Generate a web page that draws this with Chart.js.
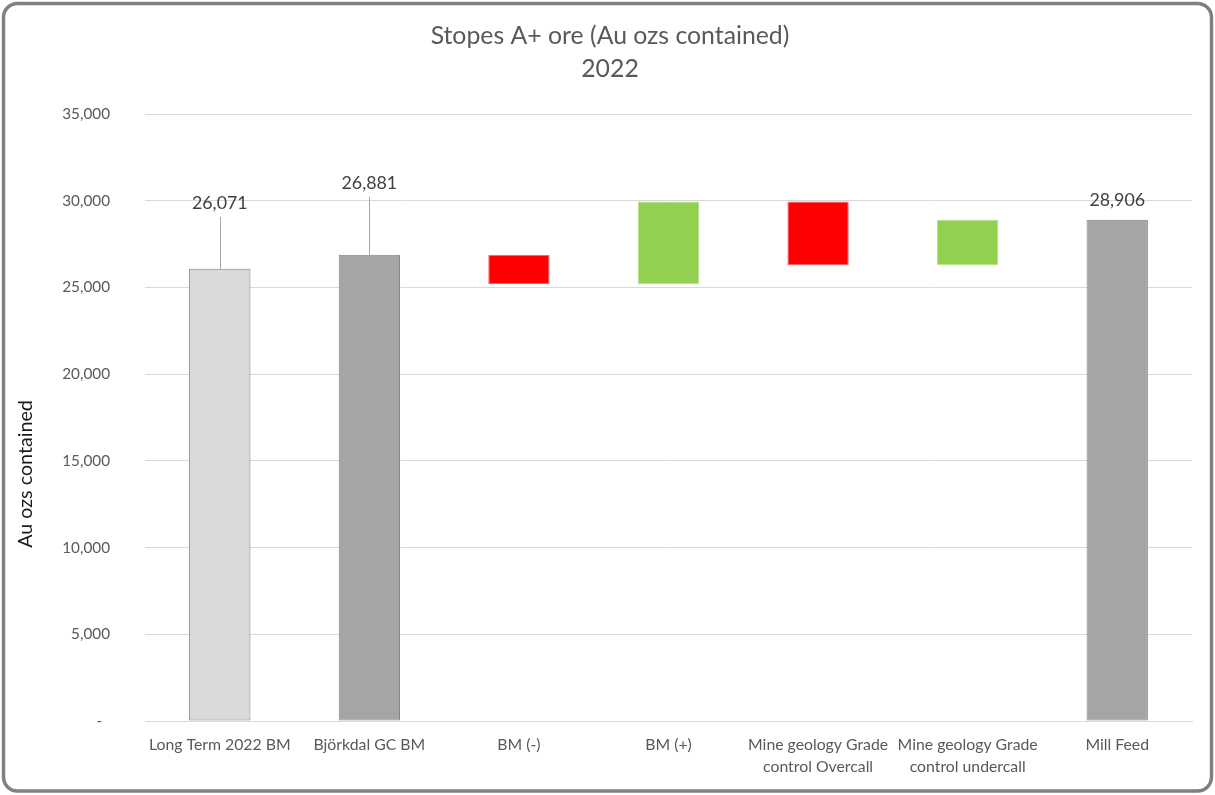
<!DOCTYPE html>
<html><head><meta charset="utf-8">
<title>Stopes A+ ore (Au ozs contained) 2022</title>
<script src="https://cdn.jsdelivr.net/npm/chart.js@4"></script>
<style>html,body{margin:0;padding:0;background:#fff}canvas{display:block}</style>
</head>
<body>
<canvas id="chart" width="1215" height="795"></canvas>
<script>
// Waterfall steps from the long-term model to mill feed
const categories = [
  'Long Term 2022 BM',
  'Björkdal GC BM',
  'BM (-)',
  'BM (+)',
  ['Mine geology Grade', 'control Overcall'],
  ['Mine geology Grade', 'control undercall'],
  'Mill Feed'
];
const barStart = [0, 0, 25200, 25200, 26275, 26275, 0];
const barEnd = [26071, 26881, 26881, 29950, 29950, 28906, 28906];
const showValue = [true, true, false, false, false, false, true];
const yTicks = [0, 5000, 10000, 15000, 20000, 25000, 30000, 35000];

const fills = ['#d9d9d9', '#a5a5a5', '#ff0000', '#92d050', '#ff0000', '#92d050', '#a5a5a5'];
const edges = ['#7f7f7f', '#858585', '#ff6060', '#b5e08a', '#ff6060', '#b5e08a', '#858585'];

const FONT = 'Lato, "Noto Sans", sans-serif';

// frame, titles and value callouts drawn straight onto the canvas
const decorations = {
  id: 'decorations',
  beforeDraw(chart) {
    const ctx = chart.ctx;
    ctx.save();
    ctx.fillStyle = '#ffffff';
    ctx.fillRect(0, 0, chart.width, chart.height);
    ctx.restore();
  },
  afterDraw(chart, args, opts) {
    const ctx = chart.ctx;
    ctx.save();
    // rounded outer frame
    ctx.strokeStyle = '#808080';
    ctx.lineWidth = 3.5;
    ctx.beginPath();
    ctx.roundRect(3.5, 3.5, chart.width - 7, chart.height - 7.5, 14);
    ctx.stroke();

    // chart title
    ctx.fillStyle = '#595959';
    ctx.font = '24.8px ' + FONT;
    ctx.textAlign = 'center';
    ctx.textBaseline = 'middle';
    ctx.fillText('Stopes A+ ore (Au ozs contained)', 610, 36);
    ctx.fillText('2022', 610, 69);

    // value axis title
    ctx.save();
    ctx.translate(26, 474);
    ctx.rotate(-Math.PI / 2);
    ctx.fillStyle = '#1a1a1a';
    ctx.font = '19.7px ' + FONT;
    ctx.fillText('Au ozs contained', 0, 0);
    ctx.restore();

    // value callouts with leader lines
    const meta = chart.getDatasetMeta(0);
    const y = chart.scales.y;
    ctx.font = '17.8px ' + FONT;
    barEnd.forEach((v, i) => {
      if (!showValue[i]) return;
      const x = meta.data[i].x;
      const top = y.getPixelForValue(v);
      const ly = top + opts.offsets[i];
      if (top - ly > 30) {
        ctx.strokeStyle = '#a6a6a6';
        ctx.lineWidth = 1;
        ctx.beginPath();
        ctx.moveTo(Math.round(x) + 0.5, top);
        ctx.lineTo(Math.round(x) + 0.5, ly + 14);
        ctx.stroke();
      }
      ctx.fillStyle = '#404040';
      ctx.fillText(v.toLocaleString('en-US'), x, ly);
    });
    ctx.restore();
  }
};

new Chart(document.getElementById('chart'), {
  type: 'bar',
  data: {
    labels: categories,
    datasets: [{
      data: barStart.map((s, i) => [s, barEnd[i]]),
      backgroundColor: fills,
      borderColor: edges,
      borderWidth: 1,
      borderSkipped: false,
      barPercentage: 0.41,
      categoryPercentage: 1
    }]
  },
  options: {
    responsive: false,
    animation: false,
    devicePixelRatio: 1,
    layout: { padding: { top: 114, right: 23, bottom: 0, left: 0 } },
    plugins: {
      legend: { display: false },
      tooltip: { enabled: false },
      decorations: { offsets: [-66, -72, 0, 0, 0, 0, -19] }
    },
    scales: {
      x: {
        grid: { display: false, drawTicks: false },
        border: { display: true, color: '#d9d9d9', width: 1 },
        ticks: {
          color: '#595959',
          font: { family: FONT, size: 15.8, lineHeight: 1.4 },
          padding: 13,
          maxRotation: 0,
          autoSkip: false
        },
        afterFit(scale) { scale.height = 74; }
      },
      y: {
        min: 0,
        max: 35000,
        afterBuildTicks(scale) { scale.ticks = yTicks.map(v => ({ value: v })); },
        grid: { color: '#d9d9d9', lineWidth: 1, drawTicks: false },
        border: { display: false },
        ticks: {
          color: '#595959',
          font: { family: FONT, size: 15.3 },
          padding: 35,
          callback: v => v === 0 ? '-  ' : v.toLocaleString('en-US')
        },
        afterFit(scale) { scale.width = 145; }
      }
    }
  },
  plugins: [decorations]
});
</script>
</body></html>
